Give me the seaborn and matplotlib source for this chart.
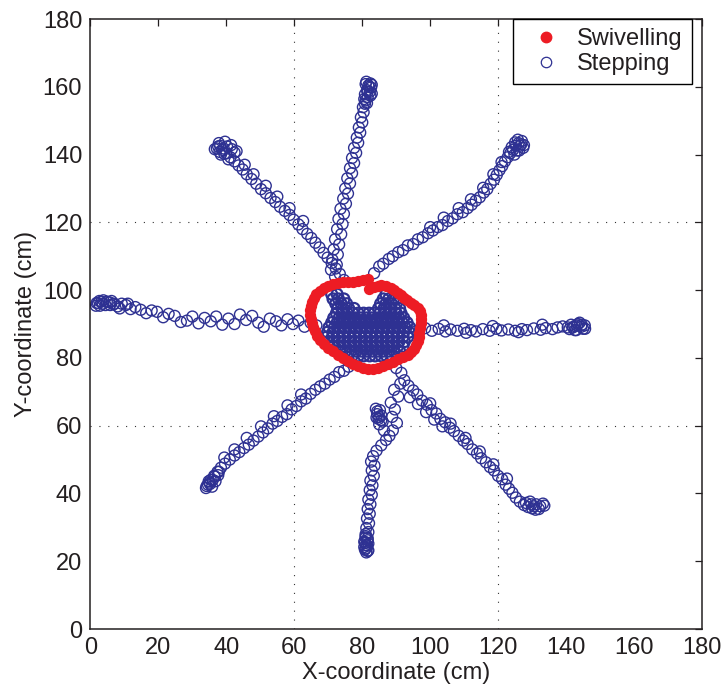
import matplotlib
matplotlib.use("Agg")
import matplotlib.pyplot as plt
import seaborn as sns
import pandas as pd
from matplotlib.lines import Line2D

# ---------------- data (cm) ----------------
# Stepping trajectories: eight arms + central cluster
N_X = [72.0, 70.8, 72.5, 71.2, 72.8, 71.6, 73.2, 72.0, 73.8, 72.6, 74.2, 73.0, 74.6, 73.6, 75.2, 74.4,
       75.8, 75.0, 76.4, 75.6, 77.0, 76.4, 77.6, 77.0, 78.2, 77.6, 78.8, 78.4, 79.4, 79.0, 80.0, 79.6,
       80.4, 80.2, 80.8, 81.0, 81.6, 80.8, 82.2, 81.4, 82.6, 81.8, 82.4, 81.2, 82.0, 82.8,
       81.0, 82.8, 81.6, 82.4, 80.6, 81.4]
N_Y = [104.0, 106.0, 107.5, 109.0, 110.5, 112.0, 113.5, 115.0, 116.5, 118.0, 119.5, 121.0, 122.5, 124.0,
       125.5, 127.0, 128.5, 130.0, 131.5, 133.0, 134.5, 136.0, 137.5, 139.0, 140.5, 142.0, 143.5, 145.0,
       146.5, 148.0, 149.5, 151.0, 152.5, 154.0, 155.0, 156.0, 157.0, 157.8, 158.5, 159.0, 159.8, 160.4,
       161.0, 161.5, 160.0, 158.0,
       160.8, 160.6, 158.6, 157.4, 156.4, 155.2]

NE_X = [83.5, 85.0, 86.2, 87.8, 89.0, 90.6, 92.0, 93.4, 95.0, 96.4, 97.8, 99.4, 100.8, 102.2, 103.6,
        105.2, 106.6, 108.0, 109.6, 111.0, 112.2, 113.4, 114.6, 115.8, 116.8, 117.8, 118.8, 119.6,
        120.4, 121.2, 122.0, 122.8, 123.6, 124.4, 125.2, 126.0, 126.8, 127.4, 126.2, 124.8, 125.8, 127.0,
        125.0, 126.4, 124.0, 123.2, 125.6, 127.6,
        100.0, 104.0, 108.4, 112.0, 115.6, 118.6, 121.0]
NE_Y = [105.0, 107.0, 107.8, 109.2, 110.0, 111.2, 111.8, 113.2, 113.6, 115.0, 115.6, 116.8, 117.6,
        118.6, 119.2, 120.4, 121.2, 122.4, 123.0, 124.2, 125.2, 126.4, 127.4, 128.8, 129.8, 131.4,
        132.6, 134.0, 135.4, 136.6, 138.0, 139.2, 140.4, 141.4, 142.6, 143.4, 143.0, 142.0, 141.2,
        140.0, 144.4, 144.0,
        143.6, 142.6, 142.2, 140.8, 141.2, 142.8,
        118.6, 121.4, 124.2, 126.8, 130.2, 134.2, 137.8]

E_X = [96.0, 98.5, 100.5, 102.5, 104.5, 106.0, 108.0, 110.0, 112.0, 113.5, 115.5, 117.5, 119.5, 121.0,
       123.0, 125.0, 127.0, 128.5, 130.5, 132.5, 134.0, 136.0, 137.5, 139.0, 140.5, 141.5, 142.5, 143.5,
       144.5, 145.0, 143.0, 141.0, 144.0, 145.5,
       142.0, 143.2, 144.6, 145.6, 142.6,
       104.0, 110.6, 118.4, 126.0, 133.0]
E_Y = [88.0, 88.8, 88.0, 88.6, 87.8, 88.4, 88.0, 88.6, 88.2, 87.8, 88.5, 88.0, 88.6, 88.1, 88.4, 88.0,
       88.5, 88.2, 88.7, 88.3, 88.8, 88.5, 89.0, 89.3, 89.0, 89.8, 89.4, 90.0, 89.2, 88.6, 88.2, 88.5,
       90.4, 89.6,
       89.0, 89.6, 89.8, 88.6, 88.2,
       89.6, 87.4, 89.4, 87.6, 89.8]

SE_X = [90.0, 91.5, 92.4, 93.6, 95.0, 96.2, 97.6, 99.0, 100.4, 101.8, 103.0, 104.4, 105.8, 107.0,
        108.4, 109.8, 111.0, 112.4, 113.8, 115.0, 116.4, 117.6, 118.8, 120.0, 121.2, 122.2, 123.2,
        124.2, 125.2, 126.4, 127.6, 128.8, 130.0, 131.2, 132.4, 133.2, 131.0, 129.4,
        94.0, 96.4, 98.8, 101.2, 103.6,
        130.6, 132.0, 133.6, 129.8, 128.2,
        100.0, 106.0, 110.4, 114.6, 118.6, 122.6]
SE_Y = [77.0, 75.6, 73.4, 71.8, 70.4, 69.2, 67.4, 66.2, 64.6, 63.6, 62.0, 61.0, 59.4, 58.4, 57.0,
        55.6, 54.6, 53.0, 51.8, 50.4, 49.2, 47.8, 46.8, 45.2, 44.2, 42.6, 41.4, 40.2, 38.8, 37.6,
        36.6, 36.0, 35.6, 36.8, 36.2, 37.0, 35.2, 37.6,
        68.4, 66.4, 64.0, 61.8, 59.8,
        36.2, 35.4, 36.4, 36.8, 37.2,
        66.6, 60.6, 56.4, 52.4, 48.6, 44.4]

S_X = [84.0, 85.2, 84.4, 85.6, 84.8, 86.0, 85.0, 86.4, 87.0, 85.6, 84.2, 83.2, 82.6, 83.6, 82.8, 83.4,
       82.4, 83.0, 82.2, 82.8, 81.8, 82.4, 81.6, 82.2, 81.4, 82.0, 81.2, 81.8, 81.0, 81.6, 80.8, 81.4,
       81.0, 81.8, 81.2, 80.6, 81.6, 81.0,
       88.4, 89.6, 88.8, 90.2, 89.0, 88.0, 90.6, 89.4, 91.2,
       80.8, 81.6, 81.2, 80.6, 81.8, 81.0,
       84.4, 85.0, 84.2, 85.6]
S_Y = [65.0, 64.6, 63.4, 63.0, 62.0, 61.2, 60.4, 58.6, 55.8, 54.2, 52.6, 51.0, 49.4, 48.2, 46.8, 45.2,
       43.8, 42.4, 41.0, 39.6, 38.2, 36.8, 35.4, 34.0, 32.6, 31.2, 29.8, 28.6, 27.4, 26.2, 25.4, 24.6,
       23.8, 23.2, 22.6, 24.2, 26.8, 28.0,
       66.8, 64.8, 62.6, 60.8, 58.6, 57.0, 68.6, 70.6, 72.4,
       23.4, 23.0, 24.8, 25.8, 25.2, 27.0,
       64.2, 62.6, 62.4, 61.6]

SW_X = [76.0, 74.6, 73.2, 71.8, 70.4, 69.0, 67.6, 66.2, 64.8, 63.4, 62.0, 60.6, 59.2, 57.8, 56.4, 55.0,
        53.6, 52.2, 50.8, 49.4, 48.0, 46.6, 45.2, 43.8, 42.4, 41.0, 39.6, 38.4, 37.4, 36.4, 35.4, 34.6,
        35.8, 36.8, 34.0, 35.0, 37.6,
        34.2, 35.2, 36.0, 34.8, 36.6, 37.8,
        62.0, 58.0, 54.0, 50.2, 46.0, 42.4, 39.4]
SW_Y = [77.4, 76.2, 75.8, 74.4, 73.6, 72.4, 71.6, 70.6, 69.4, 68.0, 67.2, 65.8, 64.8, 63.4, 62.6, 61.4,
        60.6, 59.2, 58.0, 56.8, 55.6, 54.4, 53.4, 52.2, 51.2, 50.0, 48.8, 47.6, 46.4, 45.2, 44.0, 42.6,
        42.0, 43.6, 41.6, 43.2, 45.4,
        42.2, 42.8, 44.0, 43.6, 45.0, 46.4,
        69.2, 66.0, 62.8, 59.8, 56.4, 53.0, 50.6]

W_X = [66.5, 64.8, 63.0, 61.2, 59.6, 58.0, 56.2, 54.6, 52.8, 51.0, 49.4, 47.6, 45.8, 44.0, 42.4, 40.6,
       38.8, 37.0, 35.4, 33.6, 31.8, 30.0, 28.4, 26.6, 24.8, 23.0, 21.4, 19.6, 18.0, 16.4, 14.8, 13.2,
       11.8, 10.4, 9.2, 8.0, 6.8, 5.6, 4.4, 3.2, 2.2, 1.6, 3.8, 6.2, 8.6, 11.0,
       1.8, 2.6, 3.6, 4.8, 5.8, 7.0, 2.8]
W_Y = [89.6, 90.4, 89.2, 91.0, 90.0, 91.4, 89.6, 90.8, 91.6, 89.2, 90.4, 92.4, 91.2, 92.8, 90.0, 91.6,
       89.8, 92.2, 90.8, 91.8, 90.2, 92.2, 91.0, 90.6, 92.4, 93.0, 92.0, 93.6, 94.0, 93.2, 94.2, 95.0,
       94.4, 95.6, 96.0, 95.2, 95.8, 96.4, 95.6, 96.6, 96.2, 95.4, 97.0, 96.8, 94.6, 96.0,
       96.2, 96.8, 96.0, 96.6, 95.6, 96.0, 95.4]

NW_X = [74.6, 73.4, 72.2, 71.0, 69.8, 68.6, 67.4, 66.2, 65.0, 63.8, 62.4, 61.2, 59.8, 58.6, 57.2, 55.8,
        54.4, 53.0, 51.6, 50.2, 48.8, 47.4, 46.0, 44.8, 43.6, 42.4, 41.2, 40.0, 38.8, 37.6, 36.6, 37.8,
        39.6, 41.4, 43.0, 38.4, 40.6,
        37.2, 38.2, 39.2, 40.2, 41.6, 42.4, 39.4, 38.0,
        62.6, 58.6, 55.0, 51.6, 48.0, 45.4]
NW_Y = [103.0, 104.8, 106.4, 108.0, 109.6, 111.0, 112.6, 114.0, 115.4, 116.6, 118.0, 119.4, 120.8,
        122.2, 123.4, 124.6, 126.0, 127.2, 128.6, 129.8, 131.4, 132.8, 134.2, 135.6, 136.8, 138.0,
        139.2, 140.4, 141.4, 142.4, 141.6, 143.4, 143.8, 142.8, 141.0, 140.0, 138.6,
        141.8, 142.6, 141.8, 142.4, 141.6, 140.6, 140.2, 140.8,
        120.4, 124.2, 127.6, 130.8, 134.2, 137.0]

# central cluster, read row by row
C_ROW_Y = [80.6, 82.0, 83.4, 84.8, 86.2, 87.6, 89.0, 90.4, 91.8, 93.2, 94.6, 96.0, 97.4, 98.8]
C_ROW_X = [
    [77.0, 78.8, 80.4, 82.2, 83.8, 85.6, 87.2, 88.8],
    [73.4, 75.0, 76.6, 78.2, 79.8, 81.4, 83.0, 84.6, 86.2, 87.8, 89.4, 91.0],
    [71.2, 72.8, 74.4, 76.0, 77.6, 79.2, 80.8, 82.4, 84.0, 85.6, 87.2, 88.8, 90.4, 92.0],
    [70.0, 71.6, 73.2, 74.8, 76.4, 78.0, 79.6, 81.2, 82.8, 84.4, 86.0, 87.6, 89.2, 90.8, 92.4],
    [69.6, 71.2, 72.8, 74.4, 76.0, 77.6, 79.2, 80.8, 82.4, 84.0, 85.6, 87.2, 88.8, 90.4, 92.0, 93.4],
    [69.8, 71.4, 73.0, 74.6, 76.2, 77.8, 79.4, 81.0, 82.6, 84.2, 85.8, 87.4, 89.0, 90.6, 92.2, 93.8],
    [70.2, 71.8, 73.4, 75.0, 76.6, 78.2, 79.8, 81.4, 83.0, 84.6, 86.2, 87.8, 89.4, 91.0, 92.6, 94.0],
    [71.0, 72.6, 74.2, 75.8, 77.4, 79.0, 80.6, 82.2, 83.8, 85.4, 87.0, 88.6, 90.2, 91.8, 93.2],
    [71.6, 73.2, 74.8, 76.4, 78.0, 79.6, 81.2, 82.8, 84.4, 86.0, 87.6, 89.2, 90.8, 92.2],
    [72.4, 74.0, 75.6, 77.2, 78.8, 80.4, 82.0, 83.6, 85.2, 86.8, 88.4, 90.0, 91.4],
    [72.8, 74.4, 76.0, 77.6, 84.8, 86.4, 88.0, 89.6, 91.0],
    [72.2, 73.8, 75.4, 85.4, 87.0, 88.6, 90.0],
    [71.4, 73.0, 74.6, 86.2, 87.8, 89.2],
    [71.0, 72.6, 87.0],
]

# Swivelling: ring of positions around the centre
RING_X = [81.6, 80.2, 78.7, 77.2, 75.8, 74.3, 72.9, 71.4, 69.9, 68.6, 67.5, 66.5, 65.8, 65.3, 64.9, 64.7,
          64.6, 64.8, 65.1, 65.5, 66.0, 66.7, 67.5, 68.6, 69.9, 71.4, 72.9, 74.3, 75.8, 77.2, 78.7, 80.2,
          81.7, 83.2, 84.6, 86.0, 87.5, 89.0, 90.4, 91.9, 93.4, 94.4, 95.3, 95.9, 96.3, 96.6, 96.8, 97.1,
          97.3, 97.3, 97.3, 96.9, 96.3, 95.3, 94.3, 93.3, 92.4, 91.4, 90.4, 89.4, 88.5, 87.0, 85.5, 84.5,
          83.6, 82.1]
RING_Y = [103.2, 102.9, 102.6, 102.5, 102.4, 102.3, 102.1, 101.7, 101.2, 100.5, 99.7, 98.8, 97.7, 96.5,
          95.3, 94.0, 92.8, 91.6, 90.4, 89.1, 87.9, 86.6, 85.4, 84.1, 83.0, 82.0, 81.0, 80.0, 79.0, 78.3,
          77.6, 77.0, 76.6, 76.8, 77.1, 77.6, 78.1, 78.8, 79.6, 80.3, 81.0, 81.7, 82.5, 83.7, 84.9, 86.1,
          87.4, 88.9, 90.4, 91.6, 92.8, 93.8, 94.8, 95.6, 96.3, 97.0, 97.7, 98.5, 99.2, 100.0, 100.7,
          101.1, 101.4, 101.2, 101.0, 100.4]

X_TICKS = [0, 20, 40, 60, 80, 100, 120, 140, 160, 180]
Y_TICKS = [0, 20, 40, 60, 80, 100, 120, 140, 160, 180]
GRID_AT = [60, 120]

BLUE = "#2e3192"
RED = "#ed1c24"
TXT = "#231f20"

# ---------------- build tables ----------------
arm_x, arm_y = [], []
for xs, ys in [(N_X, N_Y), (NE_X, NE_Y), (E_X, E_Y), (SE_X, SE_Y), (S_X, S_Y),
               (SW_X, SW_Y), (W_X, W_Y), (NW_X, NW_Y)]:
    arm_x += xs
    arm_y += ys
arm_df = pd.DataFrame({"x": arm_x, "y": arm_y})

cx, cy = [], []
for yv, row in zip(C_ROW_Y, C_ROW_X):
    cx += row
    cy += [yv] * len(row)
centre_df = pd.DataFrame({"x": cx, "y": cy})
ring_df = pd.DataFrame({"x": RING_X, "y": RING_Y})

# ---------------- plot ----------------
sns.set_theme(style="white")
plt.rcParams["font.family"] = ["Liberation Sans", "DejaVu Sans"]

fig = plt.figure(figsize=(7.25, 6.9), dpi=100)
ax = fig.add_axes([0.1248, 0.0884, 0.8434, 0.884])

for g in GRID_AT:
    ax.axvline(g, color="#333333", lw=0.8, ls=(0, (1, 7)), zorder=0)
    ax.axhline(g, color="#333333", lw=0.8, ls=(0, (1, 7)), zorder=0)

sns.scatterplot(data=arm_df, x="x", y="y", ax=ax, marker="o", s=62,
                color=BLUE, facecolor="none", edgecolor=BLUE, linewidth=1.0,
                legend=False, zorder=2)
sns.scatterplot(data=centre_df, x="x", y="y", ax=ax, marker="o", s=62,
                color=BLUE, facecolor="none", edgecolor=BLUE, linewidth=1.6,
                legend=False, zorder=2)
sns.scatterplot(data=ring_df, x="x", y="y", ax=ax, marker="o", s=66,
                color=RED, edgecolor=RED, linewidth=0, legend=False, zorder=3)

ax.set_xlim(0, 180)
ax.set_ylim(0, 180)
ax.set_xticks(X_TICKS)
ax.set_yticks(Y_TICKS)
ax.tick_params(direction="in", top=True, right=True, length=5, width=0.9,
               labelsize=17, labelcolor=TXT, color=TXT, pad=6)
for sp in ax.spines.values():
    sp.set_color(TXT)
    sp.set_linewidth(1.1)

ax.set_xlabel("X-coordinate (cm)", fontsize=17, color=TXT, labelpad=2)
ax.set_ylabel("Y-coordinate (cm)", fontsize=17, color=TXT, labelpad=4)

handles = [
    Line2D([], [], ls="none", marker="o", markersize=7.5, markerfacecolor=RED,
           markeredgecolor=RED, label="Swivelling"),
    Line2D([], [], ls="none", marker="o", markersize=7.5, markerfacecolor="none",
           markeredgecolor=BLUE, markeredgewidth=0.9, label="Stepping"),
]
leg = ax.legend(handles=handles, loc="upper right", bbox_to_anchor=(0.984, 1.0),
                borderaxespad=0, fontsize=17, frameon=True, fancybox=False,
                edgecolor="black", framealpha=1, borderpad=0.4, labelspacing=0.1,
                handlelength=2.0, handletextpad=0.3)
leg.get_frame().set_linewidth(1.0)
for t in leg.get_texts():
    t.set_color(TXT)

fig.savefig("out.png", dpi=100)
